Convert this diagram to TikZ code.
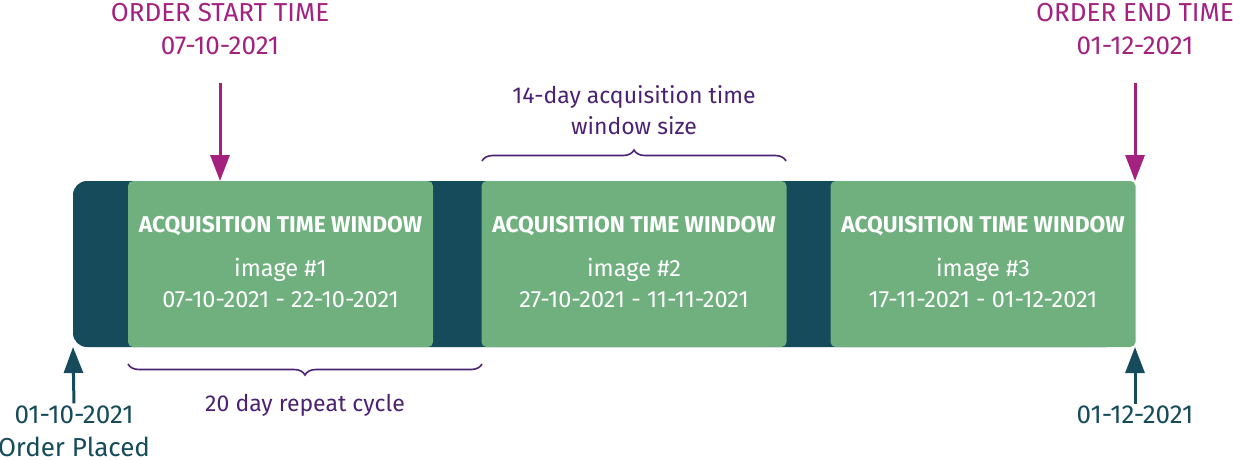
\documentclass[tikz,border=0pt]{standalone}
\usepackage{fontspec}
\setmainfont{Fira Sans}
\usetikzlibrary{arrows.meta,decorations.pathreplacing}
\definecolor{cDark}{HTML}{154B5B}
\definecolor{cGreen}{HTML}{70B07F}
\definecolor{cMag}{HTML}{A3217F}
\definecolor{cPurp}{HTML}{4B2273}
\tikzset{
  winbox/.style={fill=cGreen, rounded corners=5pt, minimum width=305pt, minimum height=166pt, inner sep=0pt},
  wintitle/.style={text=white, font=\fontsize{22.8}{28}\selectfont\bfseries, inner sep=0pt},
  wintext/.style={text=white, font=\fontsize{23.5}{28}\selectfont, inner sep=0pt},
  maglbl/.style={text=cMag, font=\fontsize{26}{33}\selectfont, align=center, inner sep=0pt},
  darklbl/.style={text=cDark, font=\fontsize{26}{33}\selectfont, align=center, inner sep=0pt},
  purlbl/.style={text=cPurp, font=\fontsize{23}{31}\selectfont, align=center, inner sep=0pt},
  magarrow/.style={draw=cMag, line width=3pt, -{Triangle[width=19pt,length=26pt]}},
  darkarrow/.style={draw=cDark, line width=3pt, -{Triangle[width=19pt,length=26pt]}},
  bracepath/.style={draw=cPurp, line width=1.6pt, decorate, decoration={brace, amplitude=11pt}},
}
\begin{document}
\begin{tikzpicture}[x=1pt,y=-1pt]
\useasboundingbox (0,0) rectangle (1233,460);
% dark bar
\fill[cDark, rounded corners=14pt] (73,181) rectangle (1120,347);
% windows
\node[winbox] (b1) at (280.5,264) {};
\node[winbox] (b2) at (634,264) {};
\node[winbox] (b3) at (983,264) {};
\foreach \b/\n/\d in {b1/1/07-10-2021 - 22-10-2021, b2/2/27-10-2021 - 11-11-2021, b3/3/17-11-2021 - 01-12-2021}{
  \node[wintitle] (\b t) at ([yshift=38pt]\b.center) {ACQUISITION TIME WINDOW};
  \node[wintext] (\b i) at ([yshift=-6pt]\b.center) {image \#\n};
  \node[wintext] (\b d) at ([yshift=-36pt]\b.center) {\d};
}
% top labels
\node[maglbl] (start) at (220,29) {ORDER START TIME\\07-10-2021};
\node[maglbl] (end) at (1135,29) {ORDER END TIME\\01-12-2021};
\coordinate (startpt) at (220,181);
\coordinate (endpt) at (1135,181);
\draw[magarrow, shorten <=28pt] (start.south) -- (startpt);
\draw[magarrow, shorten <=28pt] (end.south) -- (endpt);
% bottom labels
\node[darklbl] (placed) at (74,431) {01-10-2021\\Order Placed};
\node[darklbl] (fin) at (1135,415) {01-12-2021};
\coordinate (placedpt) at (73,347);
\coordinate (finpt) at (1135,347);
\draw[darkarrow, shorten <=2pt] (placed.north) -- (placedpt);
\draw[darkarrow, shorten <=2pt] (fin.north) -- (finpt);
% braces
\coordinate (bl) at (128,364);
\coordinate (br) at (482,364);
\draw[bracepath] (br) -- (bl);
\node[purlbl] (cycle) at (305,405) {20 day repeat cycle};
\coordinate (tl) at (482,161);
\coordinate (tr) at (786,161);
\draw[bracepath] (tl) -- (tr);
\node[purlbl] (size) at (634,110) {14-day acquisition time\\window size};
\end{tikzpicture}
\end{document}
